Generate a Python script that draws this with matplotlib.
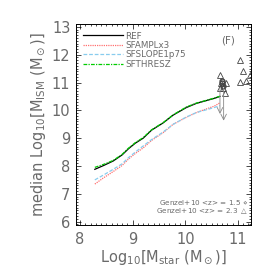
import numpy as np
import matplotlib
matplotlib.use("Agg")
import matplotlib.pyplot as plt
from matplotlib.ticker import MultipleLocator

"============================================================================"
"1|DATA READ OFF THE PICTURE"
mstar    = [8.28, 8.45, 8.63, 8.8, 8.92, 9.05, 9.2, 9.36, 9.58, 9.77, 10.02, 10.21, 10.4, 10.55, 10.66]
ref      = [7.88, 8.02, 8.18, 8.4, 8.62, 8.82, 9.0, 9.29, 9.55, 9.83, 10.1, 10.25, 10.35, 10.43, 10.5]
sfthresz = [7.95, 8.06, 8.2, 8.42, 8.64, 8.84, 9.02, 9.3, 9.56, 9.84, 10.12, 10.26, 10.36, 10.44, 10.51]
sfamplx3 = [7.35, 7.58, 7.8, 8.02, 8.25, 8.45, 8.65, 8.92, 9.2, 9.5, 9.75, 9.92, 10.05, 10.15, 10.27]
sfslope  = [7.5, 7.68, 7.88, 8.08, 8.3, 8.5, 8.72, 8.95, 9.22, 9.5, 9.76, 9.92, 10.02, 10.1, 10.17]

# Genzel+10 observations
gz15_x = [10.70, 10.70, 10.72]
gz15_y = [11.06, 10.97, 10.87]
gz23_x = [10.66, 10.68, 10.77, 10.66, 10.71, 10.75, 11.04, 11.10, 11.05, 11.15, 11.23]
gz23_y = [11.27, 10.97, 10.99, 10.79, 10.79, 10.61, 11.80, 11.41, 11.03, 11.06, 11.27]
# upper limits (arrows)
ul_x   = [10.66, 10.73]
ul_top = [10.9, 10.9]
ul_bot = [9.77, 9.53]

"============================================================================"
"2|PLOT"
grey = "#6a6a6a"
plt.rcParams['font.family'] = ['DejaVu Sans']

fig = plt.figure(figsize=(2.74, 2.74), dpi=100)
ax = fig.add_axes([0.277, 0.179, 0.639, 0.733])

ax.plot(mstar, ref, color="k", lw=0.9, label="REF")
ax.plot(mstar, sfamplx3, color="#ff7070", lw=0.9, ls=(0, (1, 0.8)), label="SFAMPLx3")
ax.plot(mstar, sfslope, color="#88ccee", lw=0.9, ls=(0, (3, 1.5)), label="SFSLOPE1p75")
ax.plot(mstar, sfthresz, color="#00cc00", lw=0.9, ls=(0, (3, 1, 1, 1)), label="SFTHRESZ")

for x, y0, y1 in zip(ul_x, ul_top, ul_bot):
    ax.annotate("", xy=(x, y1), xytext=(x, y0),
                arrowprops=dict(arrowstyle="->", color="#888888", lw=0.6))
ax.plot(gz23_x, gz23_y, ls="none", marker="^", mfc="none", mec="#444444", ms=4, mew=0.6)
ax.plot(gz15_x, gz15_y, ls="none", marker="o", mfc="none", mec="#444444", ms=3.5, mew=1.0)

ax.text(10.81, 12.52, "(F)", color=grey, fontsize=7.5, ha="center", va="center")
ax.text(11.19, 6.70, r"Genzel+10 <z> = 1.5 $\diamond$", color=grey, fontsize=5.2, ha="right", va="center")
ax.text(11.19, 6.37, r"Genzel+10 <z> = 2.3 $\triangle$", color=grey, fontsize=5.2, ha="right", va="center")

# AXIS
ax.set_xlim(7.92, 11.25)
ax.set_ylim(5.88, 13.1)
ax.xaxis.set_major_locator(MultipleLocator(1))
ax.xaxis.set_minor_locator(MultipleLocator(0.1))
ax.yaxis.set_major_locator(MultipleLocator(1))
ax.yaxis.set_minor_locator(MultipleLocator(0.1))
ax.tick_params(which="both", direction="in", top=True, right=True, colors="k",
               labelcolor=grey, labelsize=10.5, width=0.5)
ax.tick_params(which="major", length=3.5)
ax.tick_params(which="minor", length=1.5)
for s in ax.spines.values():
    s.set_linewidth(0.7)
ax.tick_params(axis="x", pad=5)
ax.tick_params(axis="y", pad=4)

ax.set_xlabel(r"Log$_{10}$[M$_{\rm star}$ (M$_\odot$)]", color=grey, fontsize=10.5, labelpad=1)
ax.set_ylabel(r"median Log$_{10}$[M$_{\rm ISM}$ (M$_\odot$)]", color=grey, fontsize=10.5, labelpad=3)

# LEGEND
leg = ax.legend(loc="upper left", frameon=False, fontsize=6.3, handlelength=4.5,
                borderaxespad=0.55, labelspacing=0.05, handletextpad=0.3,
                borderpad=0.3)
for t in leg.get_texts():
    t.set_color(grey)

fig.savefig("out.png", dpi=100)
